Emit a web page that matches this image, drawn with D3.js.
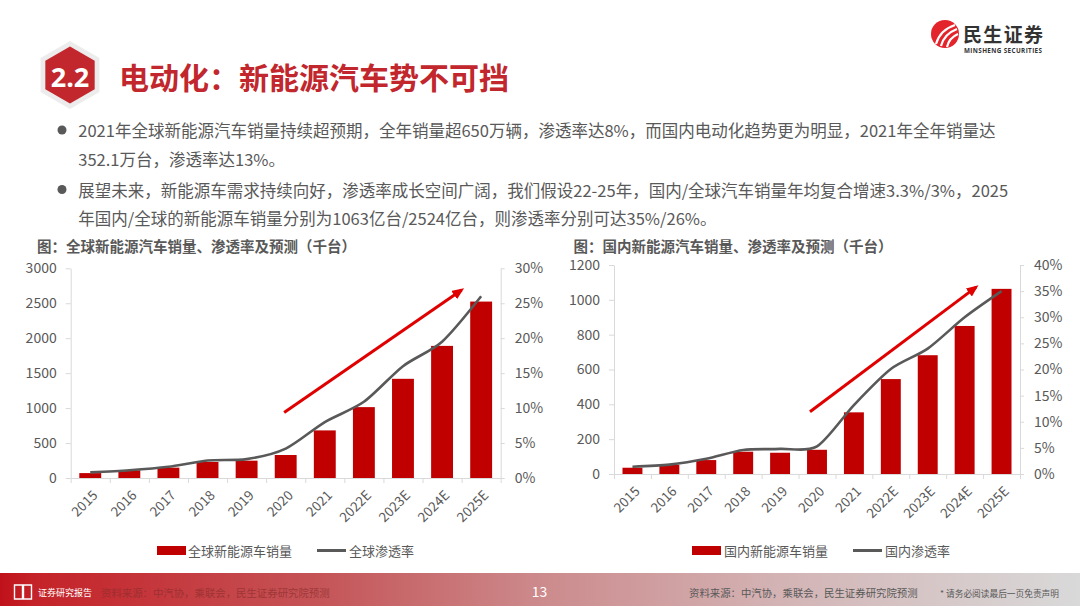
<!DOCTYPE html>
<html><head><meta charset="utf-8">
<script src="https://cdn.jsdelivr.net/npm/d3@7"></script>
<style>
body{margin:0;background:#fff;}
svg{display:block;font-family:"Noto Sans CJK SC","Noto Sans",sans-serif;}
</style>
</head><body>
<svg id="c" width="1080" height="608"></svg>
<script>
// ---------- data ----------
const years = ["2015","2016","2017","2018","2019","2020","2021","2022E","2023E","2024E","2025E"];
const globalSales = [70,110,148,229,248,329,681,1014,1419,1890,2524];
const globalRate  = [0.8,1.1,1.6,2.5,2.7,4.2,8.0,10.9,16.0,19.5,26.0];
const chinaSales  = [36,53,80,128,122,139,354,545,682,850,1063];
const chinaRate   = [1.4,1.8,2.9,4.6,4.8,5.3,13.2,20.1,24.0,30.0,35.0];
const globalLeftTicks  = [0,500,1000,1500,2000,2500,3000];
const globalRightTicks = [0,5,10,15,20,25,30];
const chinaLeftTicks   = [0,200,400,600,800,1000,1200];
const chinaRightTicks  = [0,5,10,15,20,25,30,35,40];
// trend arrows: [category index, left-axis value]
const globalArrow = [[5.46,938],[10.0,2690]];
const chinaArrow  = [[5.31,357],[9.81,1073]];

const pageTitle = "电动化：新能源汽车势不可挡";
const bullets = [
  ["2021年全球新能源汽车销量持续超预期，全年销量超650万辆，渗透率达8%，而国内电动化趋势更为明显，2021年全年销量达",
   "352.1万台，渗透率达13%。"],
  ["展望未来，新能源车需求持续向好，渗透率成长空间广阔，我们假设22-25年，国内/全球汽车销量年均复合增速3.3%/3%，2025",
   "年国内/全球的新能源车销量分别为1063亿台/2524亿台，则渗透率分别可达35%/26%。"]
];

// ---------- drawing ----------
const svg = d3.select("#c");
const TXT = "#595959", AX = "#d9d9d9", BAR = "#c00000", ARROW = "#e00000";

const defs = svg.append("defs");
const grad = defs.append("linearGradient").attr("id","foot").attr("x1","0").attr("x2","1").attr("y1","0").attr("y2","0");
[[0,"#c0111a"],[0.03,"#c42228"],[0.3,"#c55558"],[0.5,"#cc8a8c"],[0.72,"#d3b3b4"],[1,"#d9d9d9"]]
  .forEach(([o,c])=>grad.append("stop").attr("offset",o).attr("stop-color",c));
defs.append("marker").attr("id","arr").attr("markerUnits","userSpaceOnUse")
  .attr("markerWidth",14).attr("markerHeight",12).attr("refX",9).attr("refY",5).attr("orient","auto")
  .append("path").attr("d","M0,0 L12,5 L0,10 Z").attr("fill",ARROW);

// header badge
const hex = (cx,cy,r)=>d3.range(6).map(i=>{const a=Math.PI/180*(60*i-90);return [cx+r*Math.cos(a),cy+r*Math.sin(a)];});
const hg = svg.append("g");
hg.append("polygon").attr("points",hex(70,75,34).join(" ")).attr("fill","#ececec");
hg.append("polygon").attr("points",hex(70,75,28.5).join(" ")).attr("fill","#c1272d");
hg.append("text").attr("x",70).attr("y",76).attr("text-anchor","middle").attr("dominant-baseline","central")
  .attr("fill","#fff").attr("font-size",27).attr("font-weight","bold").attr("font-family","'Open Sans',sans-serif").text("2.2");
svg.append("text").attr("x",119).attr("y",76).attr("dominant-baseline","central")
  .attr("fill","#c1272d").attr("font-size",30).attr("font-weight","bold").text(pageTitle);

// logo
const lg = svg.append("g");
lg.append("circle").attr("cx",945).attr("cy",34).attr("r",14).attr("fill","#e3242b");
["M936,44 Q940,30 955,25","M941,46 Q944,34 957,29","M947,47 Q949,38 958,34"].forEach(d=>
  lg.append("path").attr("d",d).attr("fill","none").attr("stroke","#fff").attr("stroke-width",2.2));
lg.append("text").attr("x",963).attr("y",33.5).attr("dominant-baseline","central").attr("font-size",19)
  .attr("font-weight","bold").attr("fill","#333").attr("textLength",80).text("民生证券");
lg.append("text").attr("x",964).attr("y",50.5).attr("dominant-baseline","central").attr("font-size",6.3)
  .attr("font-weight","bold").attr("fill","#333").attr("textLength",78).attr("font-family","'Open Sans',sans-serif").text("MINSHENG SECURITIES");

// bullets
const lineY = [130,158.5,189.5,218];
bullets.forEach((b,i)=>{
  svg.append("circle").attr("cx",62).attr("cy",lineY[i*2]).attr("r",4.5).attr("fill",TXT);
  b.forEach((t,j)=>svg.append("text").attr("x",78.3).attr("y",lineY[i*2+j]).attr("dominant-baseline","central")
    .attr("font-size",16.5).attr("fill",TXT).text(t));
});

function drawChart(o){
  const g = svg.append("g");
  const n = years.length;
  const x = d3.scaleBand().domain(years).range([o.x0,o.x1]).paddingInner(o.pad).paddingOuter(o.pad/2);
  const xi = d3.scaleLinear().domain([0,n]).range([o.x0,o.x1]);
  const yL = d3.scaleLinear().domain([0,o.maxL]).range([o.y0,o.y1]);
  const yR = d3.scaleLinear().domain([0,o.maxR]).range([o.y0,o.y1]);
  const styleAxis = a=>{a.selectAll("path,line").attr("stroke",AX).attr("stroke-width",1);
    a.selectAll("text").attr("fill",TXT).attr("font-size",14).attr("font-family","'Noto Sans CJK SC',sans-serif");};

  g.append("text").attr("x",o.tx).attr("y",245).attr("dominant-baseline","central").attr("font-size",14.5)
    .attr("font-weight","bold").attr("fill",TXT).text(o.title);

  g.append("g").attr("transform",`translate(${o.x0},0)`)
    .call(d3.axisLeft(yL).tickValues(o.ticksL).tickSize(5).tickPadding(9).tickSizeOuter(0).tickFormat(d3.format("d"))).call(styleAxis);
  g.append("g").attr("transform",`translate(${o.x1},0)`)
    .call(d3.axisRight(yR).tickValues(o.ticksR).tickSize(4).tickPadding(10).tickSizeOuter(0).tickFormat(d=>d+"%")).call(styleAxis);
  g.append("g").attr("transform",`translate(0,${o.y0})`)
    .call(d3.axisBottom(xi).tickValues(d3.range(0,n+1)).tickSize(5).tickSizeOuter(0).tickFormat("")).call(styleAxis);

  g.selectAll("rect.bar").data(o.sales).join("rect").attr("class","bar")
    .attr("x",(d,i)=>x(years[i])).attr("width",x.bandwidth())
    .attr("y",d=>yL(d)).attr("height",d=>o.y0-yL(d)).attr("fill",BAR);

  g.append("path").datum(o.rate).attr("fill","none").attr("stroke",TXT).attr("stroke-width",2.6)
    .attr("d",d3.line().x((d,i)=>x(years[i])+x.bandwidth()/2).y(d=>yR(d)).curve(d3.curveCardinal.tension(0.2)));

  g.selectAll("text.xl").data(years).join("text").attr("class","xl")
    .attr("transform",d=>`translate(${x(d)+x.bandwidth()/2+4},${o.y0+14}) rotate(-45)`)
    .attr("text-anchor","end").attr("dominant-baseline","central").attr("font-size",13.5).attr("fill",TXT).text(d=>d);

  g.append("line").attr("x1",xi(o.arrow[0][0])).attr("y1",yL(o.arrow[0][1]))
    .attr("x2",xi(o.arrow[1][0])).attr("y2",yL(o.arrow[1][1]))
    .attr("stroke",ARROW).attr("stroke-width",3).attr("marker-end","url(#arr)");

  const ly = 550.5;
  g.append("rect").attr("x",o.lg[0]).attr("y",ly-4.5).attr("width",29).attr("height",9).attr("fill",BAR);
  g.append("text").attr("x",o.lg[1]).attr("y",ly).attr("dominant-baseline","central").attr("font-size",13).attr("fill",TXT).text(o.leg1);
  g.append("line").attr("x1",o.lg[2]).attr("x2",o.lg[2]+29).attr("y1",ly).attr("y2",ly).attr("stroke",TXT).attr("stroke-width",3);
  g.append("text").attr("x",o.lg[3]).attr("y",ly).attr("dominant-baseline","central").attr("font-size",13).attr("fill",TXT).text(o.leg2);
}

drawChart({x0:70.7,x1:500.7,y0:478,y1:268.3,pad:0.44,maxL:3000,maxR:30,
  ticksL:globalLeftTicks,ticksR:globalRightTicks,sales:globalSales,rate:globalRate,arrow:globalArrow,
  tx:37,title:"图：全球新能源汽车销量、渗透率及预测（千台）",
  lg:[157,188,317,349],leg1:"全球新能源车销量",leg2:"全球渗透率"});
drawChart({x0:614,x1:1020,y0:474,y1:265,pad:0.46,maxL:1200,maxR:40,
  ticksL:chinaLeftTicks,ticksR:chinaRightTicks,sales:chinaSales,rate:chinaRate,arrow:chinaArrow,
  tx:573.5,title:"图：国内新能源汽车销量、渗透率及预测（千台）",
  lg:[692,724,853,885],leg1:"国内新能源车销量",leg2:"国内渗透率"});

// footer
const fg = svg.append("g");
fg.append("rect").attr("x",0).attr("y",573).attr("width",1080).attr("height",33).attr("fill","url(#foot)");
fg.append("path").attr("d","M14.5,585 h8 v14 h-8 Z M23.5,585 h8 v14 h-8 Z").attr("fill","none").attr("stroke","#fff").attr("stroke-width",1.4);
fg.append("text").attr("x",38).attr("y",592).attr("dominant-baseline","central").attr("font-size",9).attr("fill","#fff").text("证券研究报告");
fg.append("text").attr("x",101).attr("y",592).attr("dominant-baseline","central").attr("font-size",10.4).attr("fill","#8a2c2c").attr("opacity",0.65).text("资料来源：中汽协，乘联会，民生证券研究院预测");
fg.append("text").attr("x",539.5).attr("y",591).attr("text-anchor","middle").attr("dominant-baseline","central").attr("font-size",14).attr("fill","#fff").text("13");
fg.append("text").attr("x",689).attr("y",592).attr("dominant-baseline","central").attr("font-size",10.4).attr("fill",TXT).text("资料来源：中汽协，乘联会，民生证券研究院预测");
fg.append("text").attr("x",940).attr("y",593).attr("dominant-baseline","central").attr("font-size",8.7).attr("fill",TXT).text("* 请务必阅读最后一页免责声明");
</script>
</body></html>
